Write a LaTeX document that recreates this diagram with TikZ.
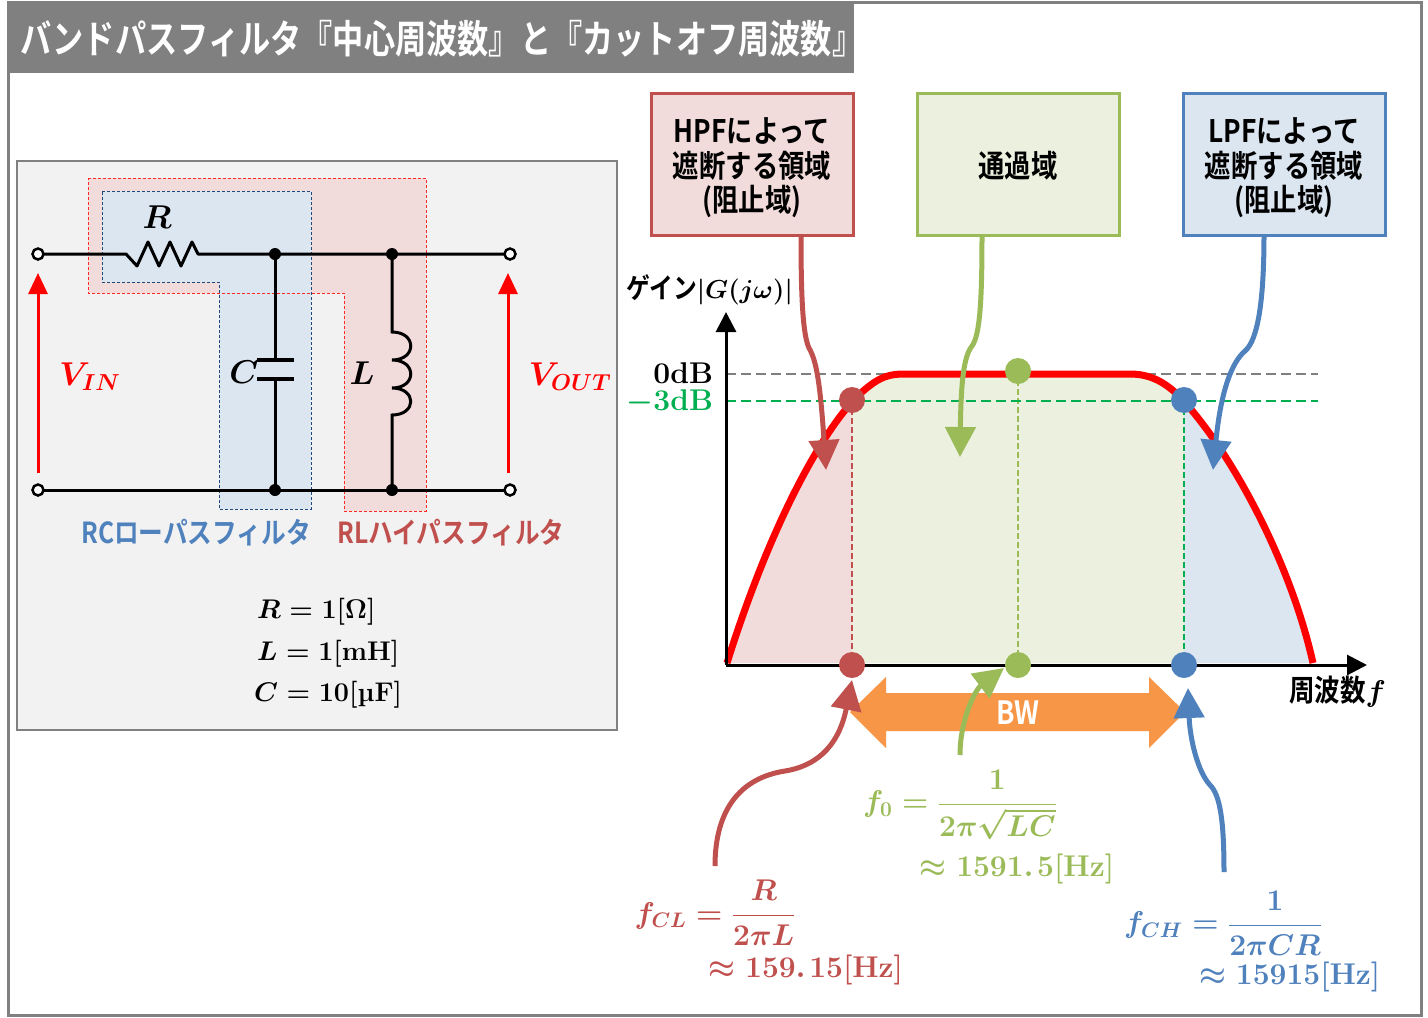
\RequirePackage{fix-cm}
\documentclass[tikz,border=0pt]{standalone}
\usepackage{amsmath}
\usepackage[no-math]{fontspec}
\newfontfamily\jp{Noto Sans CJK JP Bold}[FakeStretch=0.85]
\newfontfamily\jpt{Noto Sans CJK JP Bold}[FakeStretch=0.8]
\usetikzlibrary{arrows.meta}
\definecolor{cred}{HTML}{C0504D}
\definecolor{cgreen}{HTML}{9BBB59}
\definecolor{cblue}{HTML}{4F81BD}
\definecolor{cbright}{HTML}{00B050}
\definecolor{corange}{HTML}{F79646}
\definecolor{cgray}{HTML}{808080}
\definecolor{fpink}{HTML}{F2DCDB}
\definecolor{fgreen}{HTML}{EBF1DE}
\definecolor{fblue}{HTML}{DCE6F1}
\definecolor{fpanel}{HTML}{F2F2F2}
\definecolor{cdarkblue}{HTML}{1F497D}
\def\bpcurve{(727,663) .. controls (775,510) and (830,420) .. (862,392) .. controls (880,376) and (890,374) .. (905,374) -- (1130,374) .. controls (1150,374) and (1165,382) .. (1180,397) .. controls (1230,450) and (1290,560) .. (1313,663)}
\begin{document}
\begin{tikzpicture}[x=1pt,y=-1pt,
  every node/.style={inner sep=0pt,outer sep=0pt},
  callbox/.style={draw,line width=3pt,minimum width=202pt,minimum height=142pt},
  boxtext/.style={align=center,font=\jp\fontsize{31}{34.5}\selectfont},
  dotnode/.style={circle,minimum size=26pt},
  jdot/.style={circle,fill=black,minimum size=12pt},
  term/.style={circle,draw=black,fill=white,line width=2.5pt,minimum size=11pt},
  wire/.style={line width=3pt,black},
  plate/.style={line width=3.5pt,black},
  callarrow/.style={line width=5pt,-{Triangle[width=30pt,length=30pt]}},
  varrow/.style={line width=3pt,red,-{Triangle[width=19pt,length=21pt]}},
  axisline/.style={line width=3pt,black,-{Triangle[width=20pt,length=20pt]}},
  hdash/.style={line width=2.5pt,dash pattern=on 10pt off 5pt},
  vdash/.style={line width=2pt,dash pattern=on 6pt off 3pt},
  mathlbl/.style={font=\fontsize{30}{32}\selectfont\boldmath},
  jplbl/.style={font=\jp\fontsize{29}{31}\selectfont}
]
\useasboundingbox (0,0) rectangle (1428,1018);
\fill[white] (0,0) rectangle (1428,1018);
% frame and title
\fill[cgray] (8,2) rectangle (854,73);
\draw[cgray,line width=3pt] (8,2) rectangle (1421,1015);
\node[anchor=west,text=white,font=\jpt\fontsize{39}{41}\selectfont] (title) at (20,39) {バンドパスフィルタ『中心周波数』と『カットオフ周波数』};

% circuit panel
\draw[cgray,line width=2pt,fill=fpanel] (17,161) rectangle (617,730);
\fill[fpink] (88,178) -- (426,178) -- (426,511) -- (344,511) -- (344,293) -- (88,293) -- cycle;
\fill[fblue] (102,191) -- (311,191) -- (311,509) -- (219,509) -- (219,282) -- (102,282) -- cycle;
\draw[red!85!white,line width=1pt,dash pattern=on 3pt off 2pt] (88,178) -- (426,178) -- (426,511) -- (344,511) -- (344,293) -- (88,293) -- cycle;
\draw[cdarkblue,line width=1pt,dash pattern=on 3pt off 2pt] (102,191) -- (311,191) -- (311,509) -- (219,509) -- (219,282) -- (102,282) -- cycle;

\coordinate (pt1) at (38,254);
\coordinate (pt2) at (510,254);
\coordinate (pt3) at (38,490);
\coordinate (pt4) at (510,490);
\coordinate (pj1) at (275,254);
\coordinate (pj2) at (392,254);
\coordinate (pj3) at (275,490);
\coordinate (pj4) at (392,490);
\draw[wire,line join=round] (pt1) -- (126,254) -- (137,266) -- (148,242) -- (159,266) -- (170,242) -- (181,266) -- (192,242) -- (198,254) -- (pj1) -- (pj2) -- (pt2);
\draw[wire] (pt3) -- (pj3) -- (pj4) -- (pt4);
\draw[wire] (pj1) -- (275,360);
\draw[wire] (275,379) -- (pj3);
\draw[plate] (257,360) -- (294,360);
\draw[plate] (257,379) -- (294,379);
\draw[wire] (pj2) -- (392,332) .. controls (417,332) and (417,360) .. (392,360) .. controls (417,360) and (417,388) .. (392,388) .. controls (417,388) and (417,415) .. (392,415) -- (pj4);
\node[term] (t1) at (pt1) {};
\node[term] (t2) at (pt2) {};
\node[term] (t3) at (pt3) {};
\node[term] (t4) at (pt4) {};
\node[jdot] (j1) at (pj1) {};
\node[jdot] (j2) at (pj2) {};
\node[jdot] (j3) at (pj3) {};
\node[jdot] (j4) at (pj4) {};
\coordinate (vinb) at (38,473);
\coordinate (vint) at (38,273);
\coordinate (voutb) at (508,473);
\coordinate (voutt) at (508,273);
\draw[varrow] (vinb) -- (vint);
\draw[varrow] (voutb) -- (voutt);
\node[font=\fontsize{33}{35}\selectfont\boldmath] (rlab) at (157,217) {$R$};
\node[font=\fontsize{33}{35}\selectfont\boldmath] (clab) at (244,372) {$C$};
\node[font=\fontsize{33}{35}\selectfont\boldmath] (llab) at (362,373) {$L$};
\node[text=red,font=\fontsize{33}{36}\selectfont\boldmath] (vin) at (90,377) {$V_{IN}$};
\node[text=red,font=\fontsize{33}{36}\selectfont\boldmath] (vout) at (570,377) {$V_{OUT}$};
\node[jplbl,text=cblue] (rclbl) at (196,533) {RCローパスフィルタ};
\node[jplbl,text=cred] (rllbl) at (451,533) {RLハイパスフィルタ};
\node[anchor=west,font=\fontsize{27}{30}\selectfont\boldmath] (eqr) at (257,612) {$R=1[\Omega]$};
\node[anchor=west,font=\fontsize{27}{30}\selectfont\boldmath] (eql) at (257,654) {$L=1[\mathrm{mH}]$};
\node[anchor=west,font=\fontsize{27}{30}\selectfont\boldmath] (eqc) at (254,695) {$C=10[\text{\bfseries µF}]$};

% graph fills
\begin{scope}
\clip (720,300) rectangle (852,665);
\fill[fpink] \bpcurve -- cycle;
\end{scope}
\begin{scope}
\clip (852,300) rectangle (1184,665);
\fill[fgreen] \bpcurve -- cycle;
\end{scope}
\begin{scope}
\clip (1184,300) rectangle (1330,665);
\fill[fblue] \bpcurve -- cycle;
\end{scope}

\coordinate (pl) at (852,400);
\coordinate (plb) at (852,665);
\coordinate (pc) at (1018,371);
\coordinate (pcb) at (1018,665);
\coordinate (ph) at (1184,400);
\coordinate (phb) at (1184,665);
\draw[vdash,cred] (pl) -- (plb);
\draw[vdash,cgreen] (pc) -- (pcb);
\draw[vdash,cbright] (ph) -- (phb);
\coordinate (zl) at (726,374);
\coordinate (zr) at (1318,374);
\coordinate (ml) at (726,401);
\coordinate (mr) at (1318,401);
\draw[hdash,cgray] (zl) -- (zr);
\draw[hdash,cbright] (ml) -- (mr);
\draw[red,line width=7pt] \bpcurve;

\coordinate (origin) at (726,665);
\coordinate (ytip) at (726,312);
\coordinate (xtip) at (1367,665);
\draw[axisline] (origin) -- (ytip);
\draw[axisline] (origin) -- (xtip);

\node[anchor=east,font=\fontsize{30}{32}\selectfont\bfseries] (zdb) at (713,373) {0dB};
\node[anchor=east,text=cbright,font=\fontsize{30}{32}\selectfont\bfseries\boldmath] (mdb) at (713,402) {$-$3dB};
\node[anchor=west] (gain) at (626,290) {{\jp\fontsize{28}{30}\selectfont ゲイン}{\fontsize{26}{30}\selectfont\boldmath$|G(j\omega)|$}};
\node[anchor=west] (freq) at (1289,692) {{\jp\fontsize{30}{32}\selectfont 周波数}{\fontsize{30}{32}\selectfont\boldmath$f$}};

% callout boxes
\node[callbox,draw=cred,fill=fpink] (hpf) at (752,164) {};
\node[callbox,draw=cgreen,fill=fgreen] (pass) at (1018,164) {};
\node[callbox,draw=cblue,fill=fblue] (lpf) at (1284,164) {};
\node[boxtext] (hpftxt) at (752,168) {HPFによって\\遮断する領域\\(阻止域)};
\node[boxtext] (passtxt) at (1018,166) {通過域};
\node[boxtext] (lpftxt) at (1284,168) {LPFによって\\遮断する領域\\(阻止域)};

\coordinate (hpftip) at (826,470);
\coordinate (passtip) at (960,457);
\coordinate (lpftip) at (1213,470);
\draw[callarrow,cred] ([xshift=49pt]hpf.south) .. controls (801,300) and (803,335) .. (809,348) .. controls (816,360) and (820,380) .. (hpftip);
\draw[callarrow,cgreen] ([xshift=-36pt]pass.south) .. controls (982,300) and (980,335) .. (972,346) .. controls (964,356) and (961,380) .. (passtip);
\draw[callarrow,cblue] ([xshift=-20pt]lpf.south) .. controls (1264,300) and (1258,340) .. (1245,351) .. controls (1232,362) and (1221,390) .. (lpftip);

% bandwidth arrow
\fill[corange] (850,712) -- (886,677) -- (886,693) -- (1149,693) -- (1149,677) -- (1185,712) -- (1149,748) -- (1149,731) -- (886,731) -- (886,748) -- cycle;
\node[text=white,font=\jp\fontsize{32}{34}\selectfont] (bw) at (1018,713) {BW};

% bottom arrows
\coordinate (fclstart) at (715,866);
\coordinate (fclend) at (852,680);
\coordinate (fzstart) at (960,755);
\coordinate (fzend) at (1004,668);
\coordinate (fchstart) at (1224,872);
\coordinate (fchend) at (1188,688);
\draw[callarrow,cred] (fclstart) .. controls (715,810) and (740,778) .. (785,771) .. controls (822,765) and (840,740) .. (fclend);
\draw[callarrow,cgreen] (fzstart) .. controls (960,720) and (975,690) .. (fzend);
\draw[callarrow,cblue] (fchstart) .. controls (1224,820) and (1220,795) .. (1210,785) .. controls (1198,772) and (1190,740) .. (fchend);

% dots
\node[dotnode,fill=cred] (dl) at (pl) {};
\node[dotnode,fill=cred] (dlb) at (plb) {};
\node[dotnode,fill=cgreen] (dc) at (pc) {};
\node[dotnode,fill=cgreen] (dcb) at (pcb) {};
\node[dotnode,fill=cblue] (dh) at (ph) {};
\node[dotnode,fill=cblue] (dhb) at (phb) {};

% formulas
\node[mathlbl,text=cred] (fcl) at (715,913) {$f_{CL}=\dfrac{R}{2\pi L}$};
\node[mathlbl,text=cred] (fclv) at (806,970) {$\approx 159.\mkern2mu15[\mathrm{Hz}]$};
\node[mathlbl,text=cgreen] (fz) at (960,805) {$f_{0}=\dfrac{1}{2\pi\sqrt{LC}}$};
\node[mathlbl,text=cgreen] (fzv) at (1017,869) {$\approx 1591.\mkern2mu5[\mathrm{Hz}]$};
\node[mathlbl,text=cblue] (fch) at (1223,923) {$f_{CH}=\dfrac{1}{2\pi CR}$};
\node[mathlbl,text=cblue] (fchv) at (1290,977) {$\approx 15915[\mathrm{Hz}]$};
\end{tikzpicture}
\end{document}
